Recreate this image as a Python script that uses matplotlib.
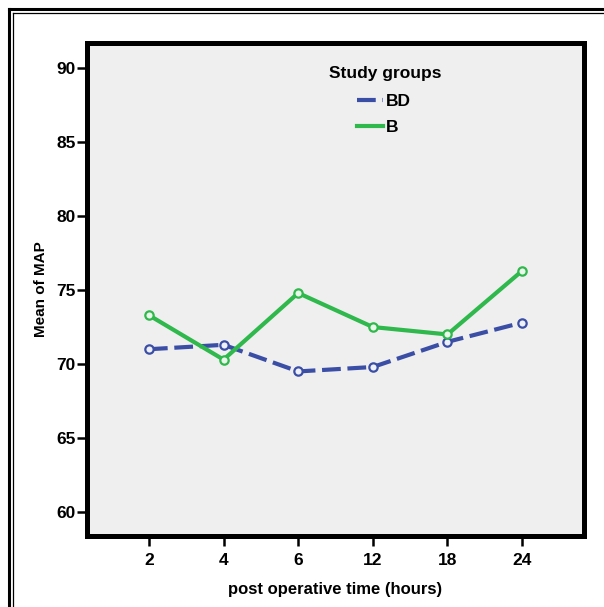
import matplotlib
matplotlib.use("Agg")
import matplotlib.pyplot as plt
from matplotlib.lines import Line2D

# Mean arterial pressure by post operative time, per study group
times = ["2", "4", "6", "12", "18", "24"]
map_bd = [71.0, 71.3, 69.5, 69.8, 71.5, 72.8]
map_b = [73.3, 70.3, 74.8, 72.5, 72.0, 76.3]
y_ticks = [60, 65, 70, 75, 80, 85, 90]

BLUE = "#3b4ea6"
GREEN = "#2fb84b"
plt.rcParams["font.family"] = ["Liberation Sans", "DejaVu Sans"]
plt.rcParams["font.weight"] = "bold"

fig = plt.figure(figsize=(6.04, 6.07), dpi=100)
ax = fig.add_axes([0.144, 0.117, 0.823, 0.812])
ax.set_facecolor("#efefef")

x = list(range(len(times)))
ax.plot(x, map_bd, color=BLUE, lw=3, dashes=(4.5, 1.6), marker="o",
        ms=6, mfc="#eef0fa", mec=BLUE, mew=1.6, label="BD")
ax.plot(x, map_b, color=GREEN, lw=3, marker="o",
        ms=6, mfc="#eaf8ec", mec=GREEN, mew=1.6, label="B")

ax.set_xlim(-0.83, 5.83)
ax.set_ylim(58.38, 91.69)
ax.set_xticks(x)
ax.set_xticklabels(times)
ax.set_yticks(y_ticks)

for s in ax.spines.values():
    s.set_linewidth(3.6)
    s.set_color("black")
ax.tick_params(axis="both", length=7, width=1.8, color="black",
               labelsize=12.5, pad=1)
ax.tick_params(axis="x", pad=5)

ax.set_xlabel("post operative time (hours)", fontsize=12, fontweight="bold",
              labelpad=10)
ax.set_ylabel("Mean of MAP", fontsize=11, fontweight="bold", labelpad=6)

# group legend: heading text above an untitled legend
ax.text(0.486, 0.939, "Study groups", transform=ax.transAxes,
        fontsize=12.5, fontweight="bold", va="center", ha="left")
leg = ax.legend(loc="upper left", bbox_to_anchor=(0.543, 0.897),
                frameon=False, fontsize=12.5, handlelength=1.5,
                handletextpad=0.15, labelspacing=0.6, borderpad=0,
                borderaxespad=0)
for h in leg.get_lines():
    h.set_marker("")

# double rule framing the figure
for pos, lw in ((0.015, 2.2), (0.021, 0.9)):
    fig.add_artist(Line2D([pos, pos], [0, 1 - pos * 604 / 607],
                          transform=fig.transFigure, color="black", lw=lw))
    fig.add_artist(Line2D([pos, 1], [1 - pos * 604 / 607] * 2,
                          transform=fig.transFigure, color="black", lw=lw))

fig.savefig("out.png", dpi=100, facecolor="white")
